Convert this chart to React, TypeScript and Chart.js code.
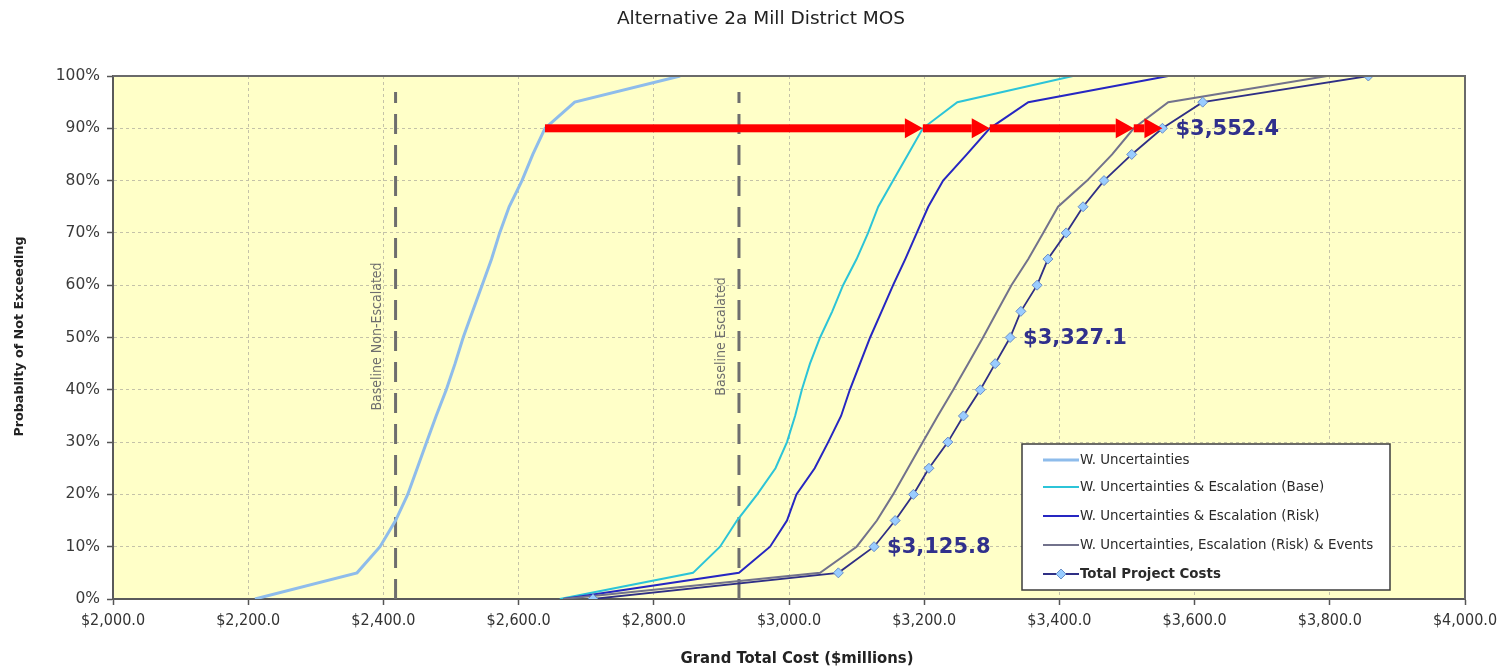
import React, { useEffect, useRef } from "react";
import { Chart, registerables } from "chart.js";

Chart.register(...registerables);

// ---------- DATA ----------
const probabilities = [0, 5, 10, 15, 20, 25, 30, 35, 40, 45, 50, 55, 60, 65, 70, 75, 80, 85, 90, 95, 100];

const wUncertainties = [2210, 2361, 2395, 2418, 2436, 2450, 2464, 2478, 2493, 2506, 2518, 2532, 2546, 2560, 2572, 2586, 2605, 2621, 2639, 2683, 2839];
const wEscalationBase = [2661, 2858, 2898, 2923, 2953, 2980, 2997, 3009, 3019, 3031, 3046, 3064, 3080, 3100, 3117, 3132, 3154, 3176, 3198, 3249, 3420];
const wEscalationRisk = [2666, 2926, 2972, 2997, 3011, 3038, 3058, 3077, 3090, 3105, 3120, 3137, 3154, 3172, 3189, 3206, 3228, 3263, 3297, 3354, 3561];
const wEscalationRiskEvents = [2666, 3046, 3100, 3130, 3154, 3176, 3198, 3220, 3243, 3265, 3287, 3308, 3329, 3354, 3376, 3398, 3441, 3478, 3510, 3561, 3796];
const totalProjectCosts = [2710, 3073, 3125.8, 3157, 3184, 3207, 3235, 3258, 3283, 3305, 3327.1, 3343, 3367, 3383, 3410, 3435, 3466, 3507, 3552.4, 3612, 3857];

const seriesNames = [
  "W. Uncertainties",
  "W. Uncertainties & Escalation (Base)",
  "W. Uncertainties & Escalation (Risk)",
  "W. Uncertainties, Escalation (Risk) & Events",
  "Total Project Costs",
];
const seriesColors = ["#8EBCEB", "#2CC4D8", "#2626C2", "#72728C", "#2F2F85"];
const seriesWidths = [3, 2, 2, 2, 1.8];

const xMin = 2000;
const xMax = 4000;
const xStep = 200;
const yMin = 0;
const yMax = 100;
const yStep = 10;

const baselineValues = [2418, 2926];
const baselineLabels = ["Baseline Non-Escalated", "Baseline Escalated"];

const arrowLevel = 90;
const arrowStops = [2639, 3198, 3297, 3510, 3552.4];

const labeledProbabilities = [10, 50, 90];

const chartTitle = "Alternative 2a Mill District MOS";
const xTitle = "Grand Total Cost ($millions)";
const yTitle = "Probablity of Not Exceeding";

// ---------- STYLE ----------
const FONT = '"DejaVu Sans", Verdana, sans-serif';
const COND = '"DejaVu Sans Condensed", "DejaVu Sans", sans-serif';
const PLOT_BG = "#FFFFC8";

const money = (v: number) =>
  "$" + v.toLocaleString("en-US", { minimumFractionDigits: 1, maximumFractionDigits: 1 });

const decorPlugin = {
  id: "decor",
  beforeDraw(chart: any) {
    const { ctx, chartArea: a } = chart;
    ctx.save();
    ctx.fillStyle = "#FFFFFF";
    ctx.fillRect(0, 0, chart.width, chart.height);
    ctx.fillStyle = PLOT_BG;
    ctx.fillRect(a.left, a.top, a.right - a.left, a.bottom - a.top);
    ctx.restore();
  },
  beforeDatasetsDraw(chart: any) {
    const { ctx, chartArea: a, scales } = chart;
    const xs = scales.x;
    const ys = scales.y;
    ctx.save();
    baselineValues.forEach((v, i) => {
      const px = xs.getPixelForValue(v);
      ctx.strokeStyle = "#6E6E6E";
      ctx.lineWidth = 3;
      ctx.setLineDash([20, 11]);
      ctx.beginPath();
      ctx.moveTo(px, a.bottom);
      ctx.lineTo(px, a.top + 16);
      ctx.stroke();
      ctx.setLineDash([]);
      ctx.save();
      ctx.translate(px - 18, ys.getPixelForValue(50) - 1);
      ctx.rotate(-Math.PI / 2);
      ctx.fillStyle = "#6E6E6E";
      ctx.font = "14px " + COND;
      ctx.textAlign = "center";
      ctx.textBaseline = "middle";
      ctx.fillText(baselineLabels[i], 0, 0);
      ctx.restore();
    });
    ctx.restore();
  },
  afterDatasetsDraw(chart: any) {
    const { ctx, chartArea: a, scales } = chart;
    const xs = scales.x;
    const ys = scales.y;
    ctx.save();

    // red arrows
    const ay = ys.getPixelForValue(arrowLevel);
    const headLen = 18;
    const headHalf = 10;
    ctx.fillStyle = "#FF0000";
    for (let i = 0; i < arrowStops.length - 1; i++) {
      const x0 = xs.getPixelForValue(arrowStops[i]);
      const x1 = xs.getPixelForValue(arrowStops[i + 1]);
      const xb = x1 - headLen;
      if (xb > x0) {
        ctx.fillRect(x0, ay - 4, xb - x0, 8);
      }
      ctx.beginPath();
      ctx.moveTo(Math.max(xb, x0), ay - headHalf);
      ctx.lineTo(x1, ay);
      ctx.lineTo(Math.max(xb, x0), ay + headHalf);
      ctx.closePath();
      ctx.fill();
    }

    // data labels
    ctx.fillStyle = "#30308C";
    ctx.font = "bold 21px " + FONT;
    ctx.textAlign = "left";
    ctx.textBaseline = "middle";
    labeledProbabilities.forEach((p) => {
      const idx = probabilities.indexOf(p);
      const v = totalProjectCosts[idx];
      ctx.fillText(money(v), xs.getPixelForValue(v) + 13, ys.getPixelForValue(p) + 1);
    });

    // top & right plot border
    ctx.strokeStyle = "#6A6A6A";
    ctx.lineWidth = 2;
    ctx.beginPath();
    ctx.moveTo(a.left, a.top);
    ctx.lineTo(a.right, a.top);
    ctx.lineTo(a.right, a.bottom);
    ctx.stroke();

    // legend
    const lx = a.right - 443;
    const ly = a.bottom - 155;
    const lw = 368;
    const lh = 146;
    ctx.fillStyle = "#FFFFFF";
    ctx.fillRect(lx, ly, lw, lh);
    ctx.strokeStyle = "#3C3C3C";
    ctx.lineWidth = 1.5;
    ctx.strokeRect(lx, ly, lw, lh);
    const rowYs = [16, 43, 72, 101, 130];
    seriesNames.forEach((name, i) => {
      const y = ly + rowYs[i];
      ctx.strokeStyle = seriesColors[i];
      ctx.lineWidth = seriesWidths[i];
      ctx.beginPath();
      ctx.moveTo(lx + 21, y);
      ctx.lineTo(lx + 57, y);
      ctx.stroke();
      if (i === 4) {
        ctx.fillStyle = "#99CCFF";
        ctx.strokeStyle = "#6A8FC8";
        ctx.lineWidth = 1;
        ctx.beginPath();
        ctx.moveTo(lx + 39, y - 5);
        ctx.lineTo(lx + 44, y);
        ctx.lineTo(lx + 39, y + 5);
        ctx.lineTo(lx + 34, y);
        ctx.closePath();
        ctx.fill();
        ctx.stroke();
      }
      ctx.fillStyle = "#2A2A2A";
      ctx.font = (i === 4 ? "bold " : "") + "13.4px " + FONT;
      ctx.textAlign = "left";
      ctx.textBaseline = "middle";
      ctx.fillText(name, lx + 58, y + 1);
    });

    // titles
    ctx.fillStyle = "#222222";
    ctx.textAlign = "center";
    ctx.textBaseline = "middle";
    ctx.font = "18.5px " + FONT;
    ctx.fillText(chartTitle, chart.width / 2 + 11, 19);
    ctx.font = "bold 16.5px " + COND;
    ctx.fillText(xTitle, (a.left + a.right) / 2 + 8, 659);
    ctx.save();
    ctx.translate(20, (a.top + a.bottom) / 2 - 1);
    ctx.rotate(-Math.PI / 2);
    ctx.font = "bold 12.7px " + FONT;
    ctx.fillText(yTitle, 0, 0);
    ctx.restore();

    ctx.restore();
  },
};

export default function App() {
  const ref = useRef<HTMLCanvasElement>(null);

  useEffect(() => {
    const canvas = ref.current;
    if (!canvas) return;
    const series = [wUncertainties, wEscalationBase, wEscalationRisk, wEscalationRiskEvents, totalProjectCosts];
    const datasets = series.map((xs, i) => ({
      label: seriesNames[i],
      data: xs.map((x, j) => ({ x, y: probabilities[j] })),
      borderColor: seriesColors[i],
      backgroundColor: seriesColors[i],
      borderWidth: seriesWidths[i],
      tension: 0,
      fill: false,
      pointRadius: i === 4 ? 5 : 0,
      pointHoverRadius: i === 4 ? 5 : 0,
      pointStyle: "rectRot" as const,
      pointBackgroundColor: "#99CCFF",
      pointBorderColor: "#6A8FC8",
      pointBorderWidth: 1,
      order: 5 - i,
    }));

    const chart = new Chart(canvas, {
      type: "line",
      data: { datasets },
      options: {
        animation: false,
        responsive: false,
        devicePixelRatio: 1,
        layout: { padding: { top: 76, right: 35, left: 0, bottom: 0 } },
        plugins: {
          legend: { display: false },
          tooltip: { enabled: false },
          title: { display: false },
        },
        scales: {
          x: {
            type: "linear",
            min: xMin,
            max: xMax,
            afterFit: (s: any) => {
              s.height = 70;
              s.paddingLeft = 0;
              s.paddingRight = 0;
            },
            ticks: {
              stepSize: xStep,
              autoSkip: false,
              maxRotation: 0,
              padding: 6,
              color: "#333333",
              font: { family: COND, size: 16 },
              callback: (v: any) => money(Number(v)),
            },
            grid: {
              color: "#C4C2A8",
              lineWidth: 1,
              drawTicks: true,
              tickLength: 6,
              tickColor: "#555555",
              tickWidth: 1.5,
              tickBorderDash: [],
            },
            border: { display: true, color: "#5A5A5A", width: 2, dash: [3, 3] },
          },
          y: {
            type: "linear",
            min: yMin,
            max: yMax,
            afterFit: (s: any) => {
              s.width = 113;
              s.paddingTop = 0;
              s.paddingBottom = 0;
            },
            ticks: {
              stepSize: yStep,
              padding: 7,
              color: "#3A3A3A",
              font: { family: FONT, size: 15.5 },
              callback: (v: any) => v + "%",
            },
            grid: {
              color: "#C4C2A8",
              lineWidth: 1,
              drawTicks: true,
              tickLength: 6,
              tickColor: "#555555",
              tickWidth: 1.5,
              tickBorderDash: [],
            },
            border: { display: true, color: "#5A5A5A", width: 2, dash: [3, 3] },
          },
        },
      },
      plugins: [decorPlugin],
    } as any);

    return () => {
      chart.destroy();
    };
  }, []);

  return (
    <div style={{ position: "fixed", left: 0, top: 0, width: 1500, height: 669, background: "#fff" }}>
      <canvas ref={ref} width={1500} height={669} style={{ display: "block", width: 1500, height: 669 }} />
    </div>
  );
}
